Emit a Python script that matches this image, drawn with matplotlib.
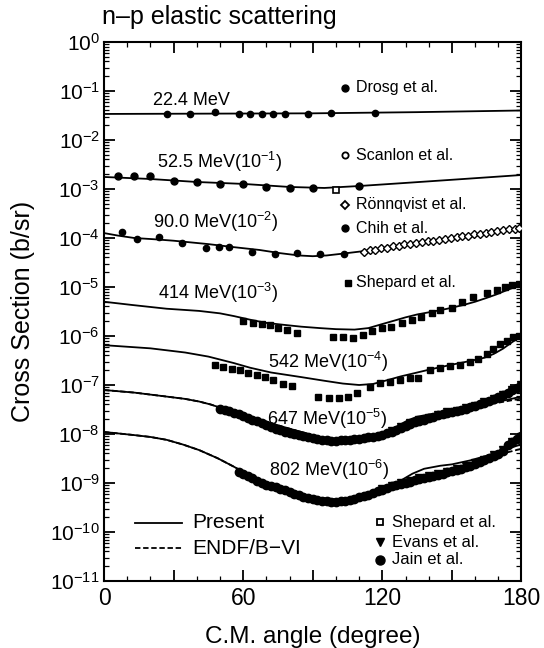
import matplotlib.pyplot as plt
import numpy as np
from matplotlib.ticker import LogLocator, MultipleLocator, NullFormatter, FixedLocator

plt.rcParams['font.family'] = ['Liberation Sans', 'DejaVu Sans']
plt.rcParams['mathtext.fontset'] = 'custom'
plt.rcParams['mathtext.rm'] = 'Liberation Sans'
plt.rcParams['mathtext.it'] = 'Liberation Sans:italic'
plt.rcParams['mathtext.bf'] = 'Liberation Sans:bold'

# ---- calculated curves (Present) : angle in degree, cross section (already scaled)
p22_deg = [0, 45, 90, 135, 180]
p22_val = [0.034, 0.0345, 0.035, 0.037, 0.040]

p52_deg = [0, 20, 40, 60, 80, 95, 110, 130, 155, 180]
p52_val = [1.76e-3, 1.60e-3, 1.39e-3, 1.27e-3, 1.10e-3, 1.05e-3, 1.15e-3, 1.33e-3, 1.60e-3, 1.93e-3]

p90_deg = [0, 6, 13, 22, 30, 45, 56, 67, 76, 84, 90, 96, 103, 112, 120, 134, 145, 157, 168, 180]
p90_val = [1.26e-4, 1.12e-4, 1.0e-4, 9.4e-5, 8.8e-5, 7.5e-5, 6.5e-5, 5.7e-5, 4.9e-5, 4.4e-5,
           4.25e-5, 4.4e-5, 4.8e-5, 5.4e-5, 6.2e-5, 7.9e-5, 9.0e-5, 1.05e-4, 1.27e-4, 1.6e-4]

p414_deg = [0, 12, 27, 41, 50, 56, 63, 70, 78, 85, 93, 100, 108, 114, 119, 125, 130, 135, 141,
            148, 155, 160, 165, 169, 172, 176, 180]
p414_val = [5.0e-6, 4.3e-6, 3.6e-6, 3.25e-6, 2.9e-6, 2.55e-6, 2.15e-6, 1.85e-6, 1.68e-6, 1.55e-6,
            1.45e-6, 1.38e-6, 1.35e-6, 1.45e-6, 1.7e-6, 2.05e-6, 2.4e-6, 2.75e-6, 3.1e-6, 3.6e-6,
            4.3e-6, 5.0e-6, 6.0e-6, 7.0e-6, 8.0e-6, 9.5e-6, 1.1e-5]

p542_deg = [0, 20, 35, 45, 56, 63, 72, 85, 95, 103, 110, 116, 122, 128, 134, 141, 150, 158, 164,
            168, 172, 176, 180]
p542_val = [6.5e-7, 5.6e-7, 4.6e-7, 3.8e-7, 2.8e-7, 2.25e-7, 1.8e-7, 1.45e-7, 1.22e-7, 1.07e-7,
            1.0e-7, 1.05e-7, 1.25e-7, 1.5e-7, 1.75e-7, 2.1e-7, 2.6e-7, 3.1e-7, 3.6e-7, 4.3e-7,
            5.5e-7, 7.5e-7, 1.0e-6]

p647_deg = [0, 13, 27, 35, 41, 46, 50, 56, 63, 70, 77, 85, 92, 98, 104, 110, 115, 119, 123, 127,
            131, 135, 140, 145, 152, 160, 167, 174, 180]
p647_val = [7.9e-8, 7.0e-8, 5.8e-8, 5.2e-8, 4.6e-8, 4.0e-8, 3.45e-8, 2.8e-8, 2.25e-8, 1.78e-8,
            1.41e-8, 1.1e-8, 8.9e-9, 7.8e-9, 7.2e-9, 7.3e-9, 8.0e-9, 9.3e-9, 1.15e-8, 1.5e-8,
            1.9e-8, 2.25e-8, 2.5e-8, 2.65e-8, 3.0e-8, 3.6e-8, 4.2e-8, 5.0e-8, 5.8e-8]

p802_deg = [0, 13, 20, 27, 34, 41, 49, 56, 63, 70, 77, 85, 92, 100, 106, 112, 117, 121, 125, 129,
            133, 138, 145, 150, 158, 165, 172, 180]
p802_val = [1.1e-8, 9.5e-9, 8.7e-9, 7.6e-9, 6.1e-9, 4.7e-9, 3.2e-9, 2.15e-9, 1.4e-9, 9.8e-10,
            7.4e-10, 5.8e-10, 5.0e-10, 4.6e-10, 4.6e-10, 5.2e-10, 6.2e-10, 7.5e-10, 9.3e-10,
            1.2e-9, 1.55e-9, 1.95e-9, 2.25e-9, 2.4e-9, 2.9e-9, 3.6e-9, 4.6e-9, 6.2e-9]

# ENDF/B-VI curves (only differ visibly from Present at 647 and 802 MeV)
e647_deg = [0, 13, 27, 35, 41, 46, 50, 56, 63, 70, 77, 85, 92, 98, 104, 110, 115, 119, 123, 127,
            131, 135, 140, 145, 152, 160, 167, 174, 180]
e647_val = [7.9e-8, 7.0e-8, 5.8e-8, 5.2e-8, 4.6e-8, 4.0e-8, 3.45e-8, 2.8e-8, 2.25e-8, 1.78e-8,
            1.41e-8, 1.1e-8, 8.9e-9, 7.8e-9, 7.2e-9, 7.3e-9, 8.0e-9, 9.0e-9, 1.02e-8, 1.2e-8,
            1.45e-8, 1.68e-8, 2.0e-8, 2.35e-8, 2.85e-8, 3.45e-8, 4.1e-8, 4.7e-8, 5.3e-8]

e802_deg = [0, 13, 20, 27, 34, 41, 49, 56, 63, 70, 77, 85, 92, 100, 106, 112, 117, 121, 125, 129,
            133, 138, 145, 150, 158, 165, 172, 180]
e802_val = [1.1e-8, 9.5e-9, 8.7e-9, 7.6e-9, 6.1e-9, 4.7e-9, 3.2e-9, 2.15e-9, 1.4e-9, 9.8e-10,
            7.4e-10, 5.8e-10, 5.0e-10, 4.6e-10, 4.6e-10, 5.2e-10, 6.2e-10, 7.3e-10, 8.5e-10,
            9.8e-10, 1.1e-9, 1.28e-9, 1.5e-9, 1.75e-9, 2.3e-9, 3.1e-9, 4.0e-9, 5.0e-9]

# ---- experimental data
drosg_deg = [27, 37, 48, 58, 63, 68, 73, 78, 88, 98, 117]
drosg_val = [0.0345, 0.0345, 0.038, 0.0345, 0.034, 0.034, 0.0335, 0.0345, 0.0345, 0.035, 0.035]

d52_deg = [6, 13, 20, 30, 40, 50, 60, 70, 80, 90, 110]
d52_val = [1.84e-3, 1.84e-3, 1.84e-3, 1.46e-3, 1.39e-3, 1.27e-3, 1.27e-3, 1.10e-3, 1.05e-3, 1.05e-3, 1.15e-3]
scanlon_deg = [100]
scanlon_val = [9.5e-4]

chih_deg = [7.6, 14.3, 23.7, 33.6, 43.9, 49.7, 53.7, 64, 73.9, 83.3, 93.1, 103.4]
chih_val = [1.33e-4, 9.5e-5, 1.05e-4, 7.9e-5, 6.25e-5, 6.5e-5, 6.5e-5, 5.2e-5, 4.7e-5, 4.95e-5, 4.7e-5, 4.7e-5]

ronn_deg = [112, 114.5, 117, 119.5, 122, 124.5, 127, 129.5, 132, 134.5, 137, 139.5, 142, 144.5,
            147, 149.5, 152, 154.5, 157, 159.5, 162, 164.5, 167, 169.5, 172, 174.5, 177, 179]
ronn_val = [5.2e-5, 5.6e-5, 5.7e-5, 6.2e-5, 6.3e-5, 6.8e-5, 6.9e-5, 7.4e-5, 7.5e-5, 8.0e-5, 8.1e-5,
            8.6e-5, 8.7e-5, 9.3e-5, 9.5e-5, 1.01e-4, 1.03e-4, 1.09e-4, 1.11e-4, 1.18e-4, 1.21e-4,
            1.29e-4, 1.33e-4, 1.41e-4, 1.45e-4, 1.53e-4, 1.56e-4, 1.62e-4]

s414_deg = [60.1, 64.1, 68.0, 71.6, 75.2, 78.8, 83.1, 98.9, 103.2, 107.5, 111.8, 115.4, 119.7, 123.6,
            128.3, 132.6, 136.5, 141.3, 144.9, 149.9, 154.2, 159.2, 165.0, 169.3, 172.9, 176, 179]
s414_val = [2.05e-6, 1.82e-6, 1.76e-6, 1.68e-6, 1.44e-6, 1.33e-6, 1.17e-6, 9.7e-7, 9.4e-7, 9.0e-7,
            1.05e-6, 1.28e-6, 1.44e-6, 1.55e-6, 1.87e-6, 2.12e-6, 2.48e-6, 2.9e-6, 3.4e-6, 3.67e-6,
            5.0e-6, 6.3e-6, 7.4e-6, 8.7e-6, 1.01e-5, 1.1e-5, 1.15e-5]

s542_deg = [47.9, 51.4, 55.0, 58.6, 62.2, 65.8, 69.4, 73.0, 77.3, 80.9, 92.4, 96.9, 101.4, 105.4,
            109.0, 114.7, 119.0, 123.3, 127.6, 131.9, 135.5, 140.6, 144.9, 149.2, 153.5, 157.8,
            161.4, 165.0, 167.9, 170.7, 173.6, 176.5, 179]
s542_val = [2.56e-7, 2.30e-7, 2.12e-7, 2.02e-7, 1.78e-7, 1.6e-7, 1.44e-7, 1.26e-7, 1.05e-7, 9.5e-8,
            5.7e-8, 5.4e-8, 5.4e-8, 5.7e-8, 6.9e-8, 9.2e-8, 1.08e-7, 1.17e-7, 1.27e-7, 1.37e-7,
            1.37e-7, 2.02e-7, 2.2e-7, 2.45e-7, 2.56e-7, 3.0e-7, 3.45e-7, 4.3e-7, 5.4e-7, 7.0e-7,
            8.0e-7, 9.5e-7, 1.02e-6]

jain647_deg = [50, 52, 54, 56, 58, 60, 62, 64, 66, 68, 70, 72, 74, 76, 78, 80, 82, 84, 86, 88, 90,
               92, 94, 96, 98, 100, 102, 104, 106, 108, 110, 112, 114, 116, 118, 120, 122, 124,
               126, 128, 130, 132, 134, 136, 138, 140, 142, 144, 146, 148, 150, 152, 154, 156,
               158, 160, 162, 164, 166, 168, 170, 172, 174, 176, 178, 180]
jain647_val = [3.2e-8, 3.05e-8, 2.9e-8, 2.7e-8, 2.5e-8, 2.3e-8, 2.1e-8, 1.95e-8, 1.8e-8, 1.65e-8,
               1.5e-8, 1.38e-8, 1.27e-8, 1.18e-8, 1.1e-8, 1.03e-8, 9.8e-9, 9.4e-9, 8.9e-9, 8.5e-9,
               8.1e-9, 7.8e-9, 7.6e-9, 7.4e-9, 7.3e-9, 7.3e-9, 7.4e-9, 7.5e-9, 7.6e-9, 7.8e-9,
               8.0e-9, 8.2e-9, 8.5e-9, 8.8e-9, 9.2e-9, 9.6e-9, 1.03e-8, 1.12e-8, 1.22e-8, 1.34e-8,
               1.46e-8, 1.6e-8, 1.72e-8, 1.85e-8, 1.97e-8, 2.1e-8, 2.25e-8, 2.4e-8, 2.55e-8, 2.7e-8,
               2.8e-8, 2.95e-8, 3.1e-8, 3.3e-8, 3.5e-8, 3.75e-8, 4.0e-8, 4.3e-8, 4.7e-8, 5.1e-8,
               5.6e-8, 6.2e-8, 6.9e-8, 7.8e-8, 8.8e-8, 9.8e-8]
evans647_deg = [124, 128, 132, 136, 140, 144, 148, 152, 156, 160, 164, 168, 172, 176, 180]
evans647_val = [1.15e-8, 1.4e-8, 1.65e-8, 1.9e-8, 2.15e-8, 2.45e-8, 2.75e-8, 3.0e-8, 3.35e-8,
                3.8e-8, 4.4e-8, 5.2e-8, 6.3e-8, 8.0e-8, 1.0e-7]

jain802_deg = [58, 60, 62, 64, 66, 68, 70, 72, 74, 76, 78, 80, 82, 84, 86, 88, 90, 92, 94, 96, 98,
               100, 102, 104, 106, 108, 110, 112, 114, 116, 118, 120, 122, 124, 126, 128, 130,
               132, 134, 136, 138, 140, 142, 144, 146, 148, 150, 152, 154, 156, 158, 160, 162,
               164, 166, 168, 170, 172, 174, 176, 178, 180]
jain802_val = [1.7e-9, 1.55e-9, 1.4e-9, 1.25e-9, 1.12e-9, 1.0e-9, 9.3e-10, 8.8e-10, 8.3e-10,
               7.7e-10, 7.1e-10, 6.5e-10, 6.0e-10, 5.6e-10, 5.2e-10, 4.9e-10, 4.7e-10, 4.5e-10,
               4.3e-10, 4.2e-10, 4.1e-10, 4.1e-10, 4.2e-10, 4.3e-10, 4.5e-10, 4.8e-10, 5.1e-10,
               5.4e-10, 5.8e-10, 6.3e-10, 6.8e-10, 7.3e-10, 7.9e-10, 8.5e-10, 9.1e-10, 9.6e-10,
               1.01e-9, 1.07e-9, 1.13e-9, 1.2e-9, 1.27e-9, 1.33e-9, 1.4e-9, 1.45e-9, 1.55e-9,
               1.65e-9, 1.75e-9, 1.85e-9, 1.97e-9, 2.1e-9, 2.25e-9, 2.42e-9, 2.65e-9, 2.9e-9,
               3.2e-9, 3.55e-9, 3.95e-9, 4.5e-9, 6.0e-9, 7.0e-9, 8.0e-9, 9.0e-9]
evans802_deg = [120, 124, 128, 132, 136, 140, 144, 148, 152, 156, 160, 164, 168, 172, 176, 180]
evans802_val = [7.6e-10, 8.6e-10, 1.0e-9, 1.1e-9, 1.25e-9, 1.38e-9, 1.5e-9, 1.7e-9, 1.9e-9,
                2.2e-9, 2.5e-9, 3.0e-9, 3.7e-9, 4.8e-9, 6.8e-9, 8.8e-9]

curve_labels = ['22.4 MeV', '52.5 MeV(10$^{-1}$)', '90.0 MeV(10$^{-2}$)', '414 MeV(10$^{-3}$)',
                '542 MeV(10$^{-4}$)', '647 MeV(10$^{-5}$)', '802 MeV(10$^{-6}$)']
label_deg = [37.5, 49.6, 47.9, 49.3, 96.5, 96.0, 97.0]
label_val = [0.052, 2.68e-3, 1.58e-4, 5.8e-6, 2.22e-7, 1.53e-8, 1.42e-9]

fig = plt.figure(figsize=(5.44, 6.48), dpi=100)
ax = fig.add_axes([0.1912, 0.1034, 0.7674, 0.8318])

lw = 1.3
for d, v in [(p22_deg, p22_val), (p52_deg, p52_val), (p90_deg, p90_val), (p414_deg, p414_val),
             (p542_deg, p542_val), (p647_deg, p647_val), (p802_deg, p802_val)]:
    ax.plot(d, v, color='black', lw=lw, zorder=2)
for d, v in [(e647_deg, e647_val), (e802_deg, e802_val)]:
    ax.plot(d, v, color='black', lw=lw, ls=(0, (3, 1.5)), zorder=2)

ax.plot(drosg_deg, drosg_val, 'o', color='black', ms=4.5, zorder=3)
ax.plot(d52_deg, d52_val, 'o', color='black', ms=5, zorder=3)
ax.plot(scanlon_deg, scanlon_val, 's', mfc='white', mec='black', mew=1.2, ms=4, zorder=3)
ax.plot(chih_deg, chih_val, 'o', color='black', ms=4.5, zorder=3)
ax.plot(ronn_deg, ronn_val, 'D', mfc='white', mec='black', mew=1.0, ms=4, zorder=3)
ax.plot(s414_deg, s414_val, 's', color='black', ms=5, zorder=3)
ax.plot(s542_deg, s542_val, 's', color='black', ms=5, zorder=3)
ax.plot(jain647_deg, jain647_val, 'o', color='black', ms=6, zorder=3)
ax.plot(evans647_deg, evans647_val, 'v', color='black', ms=6, zorder=3)
ax.plot(jain802_deg, jain802_val, 'o', color='black', ms=6, zorder=3)
ax.plot(evans802_deg, evans802_val, 'v', color='black', ms=6, zorder=3)

for t, x, y in zip(curve_labels, label_deg, label_val):
    ax.text(x, y, t, ha='center', va='baseline', fontsize=13)

# legends drawn by hand (axes fraction)
tr = ax.transAxes
ax.plot([0.577], [0.915], 'o', color='black', ms=5, transform=tr)
ax.text(0.603, 0.915, 'Drosg et al.', va='center', fontsize=11.5, transform=tr)
ax.plot([0.577], [0.790], 'o', mfc='white', mec='black', mew=1.3, ms=4.5, transform=tr)
ax.text(0.603, 0.790, 'Scanlon et al.', va='center', fontsize=11.5, transform=tr)
ax.plot([0.577], [0.698], 'D', mfc='white', mec='black', mew=1.3, ms=4.5, transform=tr)
ax.text(0.603, 0.698, 'R\u00f6nnqvist et al.', va='center', fontsize=11.5, transform=tr)
ax.plot([0.577], [0.654], 'o', color='black', ms=5, transform=tr)
ax.text(0.603, 0.654, 'Chih et al.', va='center', fontsize=11.5, transform=tr)
ax.plot([0.585], [0.553], 's', color='black', ms=5, transform=tr)
ax.text(0.603, 0.553, 'Shepard et al.', va='center', fontsize=11.5, transform=tr)

ax.plot([0.660], [0.109], 's', mfc='white', mec='black', mew=1.3, ms=4.5, transform=tr)
ax.text(0.689, 0.109, 'Shepard et al.', va='center', fontsize=12, transform=tr)
ax.plot([0.660], [0.072], 'v', color='black', ms=6, transform=tr)
ax.text(0.689, 0.072, 'Evans et al.', va='center', fontsize=12, transform=tr)
ax.plot([0.660], [0.039], 'o', color='black', ms=6.5, transform=tr)
ax.text(0.689, 0.039, 'Jain et al.', va='center', fontsize=12, transform=tr)

ax.plot([0.074, 0.187], [0.108, 0.108], color='black', lw=1.3, transform=tr)
ax.text(0.211, 0.108, 'Present', va='center', fontsize=15, transform=tr)
ax.plot([0.074, 0.187], [0.061, 0.061], color='black', lw=1.3, ls=(0, (3, 1.5)), transform=tr)
ax.text(0.211, 0.061, 'ENDF/B\u2212VI', va='center', fontsize=15, transform=tr)

ax.set_yscale('log')
ax.set_xlim(0, 180)
ax.set_ylim(1e-11, 1)
ax.xaxis.set_major_locator(FixedLocator([0, 30, 60, 90, 120, 150, 180]))
ax.set_xticklabels(['0', '', '60', '', '120', '', '180'])
ax.xaxis.set_minor_locator(MultipleLocator(10))
ax.yaxis.set_major_locator(LogLocator(base=10, numticks=20))
ax.yaxis.set_minor_locator(LogLocator(base=10, subs=np.arange(2, 10), numticks=20))
ax.yaxis.set_minor_formatter(NullFormatter())
ax.tick_params(which='both', direction='in', top=True, right=True)
ax.tick_params(which='major', length=8, width=1.3)
ax.tick_params(which='minor', length=3.5, width=0.9)
ax.tick_params(axis='x', labelsize=16.5, pad=4)
ax.tick_params(axis='y', labelsize=15, pad=3)
for s in ax.spines.values():
    s.set_linewidth(1.5)

ax.set_xlabel('C.M. angle (degree)', fontsize=17.5)
ax.xaxis.set_label_coords(0.5, -0.083)
ax.xaxis.label.set_va('top')
ax.set_ylabel('Cross Section (b/sr)', fontsize=18)
ax.yaxis.set_label_coords(-0.165, 0.5)

fig.text(0.187, 1 - 24 / 648, 'n\u2013p elastic scattering', fontsize=18, va='baseline')

fig.savefig('out.png', dpi=100)
